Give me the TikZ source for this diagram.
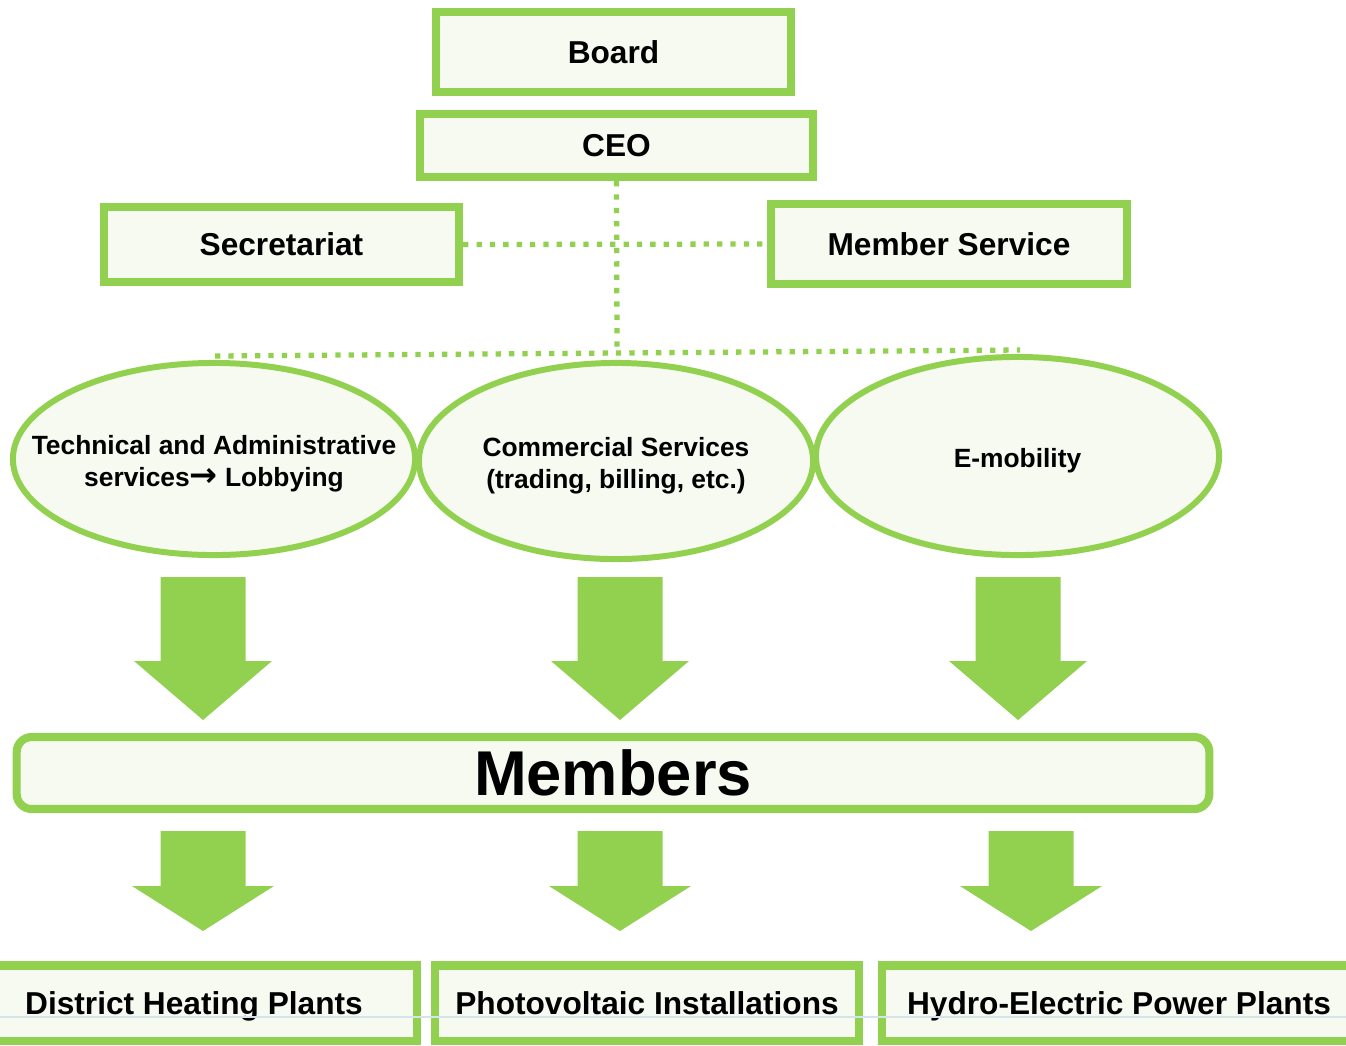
\documentclass[tikz,border=0pt]{standalone}
\usepackage{fontspec}
\setmainfont{Liberation Sans}
\newfontfamily\arrowfont{DejaVu Sans}
\usetikzlibrary{shapes.geometric,positioning}
\definecolor{leaf}{HTML}{92D050}
\definecolor{pale}{HTML}{F6FAF0}
\definecolor{haze}{HTML}{D3E4EA}
% text that does not widen the ellipse
\newcommand{\unittext}[1]{\makebox[0pt]{\smash{\raisebox{-3.1pt}{\begin{tabular}{@{}c@{}}#1\end{tabular}}}}}
\tikzset{
  box/.style={draw=leaf,line width=2.3pt,fill=pale,inner sep=0pt,text height=6.5pt,text depth=0pt,font=\fontsize{9}{11}\selectfont\bfseries},
  unit/.style={ellipse,draw=leaf,line width=1.7pt,fill=pale,inner sep=0pt,font=\fontsize{7.5}{9.1}\selectfont\bfseries},
  link/.style={draw=leaf,line width=1.5pt,dash pattern=on 1.5pt off 2.3pt}
}

\begin{document}
\begin{tikzpicture}[x=0.01cm,y=-0.01cm]
\useasboundingbox (0,0) rectangle (1346,1045);

\node (board) at (613.5,52) [box,minimum width=3.55cm,minimum height=0.80cm] {Board};
\node (ceo) at (616.5,145.5) [box,minimum width=3.93cm,minimum height=0.63cm] {CEO};
\node (secr) at (281.5,244.5) [box,minimum width=3.55cm,minimum height=0.75cm] {Secretariat};
\node (msrv) at (949,244) [box,minimum width=3.56cm,minimum height=0.80cm] {Member Service};

\coordinate (busL) at (215,356);
\coordinate (busM) at (617,353);
\coordinate (busR) at (1020,350);

\draw[link] (secr.east) -- (msrv.west);
\draw[link] (ceo.south) -- (busM);
\draw[link] (busL) -- (busR);

\node (tech) at (214,459) [unit,minimum width=4.02cm,minimum height=1.92cm] {\unittext{Technical and Administrative\\services{\arrowfont\bfseries\fontsize{9.5}{9.1}\selectfont →} Lobbying}};
\node (comm) at (616,461) [unit,minimum width=3.94cm,minimum height=1.96cm] {\unittext{Commercial Services\\(trading, billing, etc.)}};
\node (emob) at (1017.5,456) [unit,minimum width=4.03cm,minimum height=1.98cm] {\unittext{E-mobility}};

\node (memb) at (613,773) [box,rounded corners=4.3pt,minimum width=11.92cm,minimum height=0.72cm,text height=13pt,font=\fontsize{18}{20}\selectfont\bfseries] {Members};

% block arrows
\foreach \xa/\ya/\yb/\yc/\hw in {203/577/661/720/69,620/577/661/720/69,1018/577/661/720/69,
                                  203/831/886/931/71,620/831/886/931/71,1031/831/886/931/71} {
\fill[leaf] (\xa-42.5,\ya) -- (\xa+42.5,\ya) -- (\xa+42.5,\yb) -- (\xa+\hw,\yb)
  -- (\xa,\yc) -- (\xa-\hw,\yb) -- (\xa-42.5,\yb) -- cycle;
}

\node (heat) at (194,1003) [box,minimum width=4.46cm,minimum height=0.75cm] {District Heating Plants};
\node (pvin) at (647,1003) [box,minimum width=4.23cm,minimum height=0.75cm] {Photovoltaic Installations};
\node (hydr) at (1119,1003) [box,minimum width=4.73cm,minimum height=0.75cm] {Hydro-Electric Power Plants};

\draw[haze,line width=0.4pt] (0,1017) -- (1346,1017);
\end{tikzpicture}
\end{document}
